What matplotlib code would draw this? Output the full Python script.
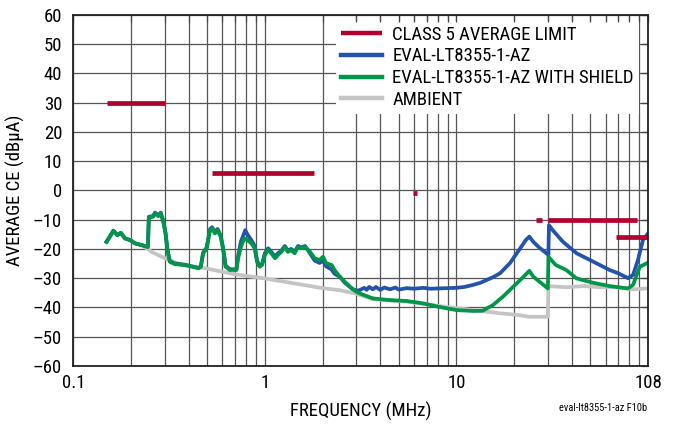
"""Average conducted emissions of EVAL-LT8355-1-AZ vs CISPR 25 class 5 limit."""

import matplotlib
matplotlib.use("Agg")
import matplotlib.pyplot as plt
from matplotlib.ticker import FixedLocator, NullFormatter

plt.rcParams["font.family"] = ["Roboto Condensed", "DejaVu Sans"]

# Class 5 average limit segments: (f_start MHz, f_stop MHz, level dBuA)
LIMIT_SEGMENTS = [
    (0.15, 0.30, 30.0),
    (0.53, 1.80, 6.0),
    (5.90, 6.20, -1.0),
    (26.0, 28.0, -10.0),
    (30.0, 88.0, -10.0),
    (68.0, 108.0, -16.0),
]

FREQ_BLUE = [0.149, 0.162, 0.17, 0.177, 0.186, 0.198, 0.21, 0.228, 0.245, 0.248,
             0.261, 0.267, 0.278, 0.286, 0.295, 0.303, 0.31, 0.319, 0.339, 0.383,
             0.45, 0.463, 0.476, 0.497, 0.517, 0.53, 0.548, 0.566, 0.588, 0.606,
             0.624, 0.656, 0.71, 0.725, 0.75, 0.79, 0.81, 0.85, 0.885, 0.91,
             0.94, 0.967, 1.0, 1.04, 1.08, 1.13, 1.17, 1.22, 1.27, 1.32,
             1.37, 1.43, 1.49, 1.55, 1.62, 1.72, 1.82, 1.93, 2.01, 2.09,
             2.23, 2.31, 2.46, 2.61, 2.84, 3.0, 3.12, 3.3, 3.4, 3.5,
             3.66, 3.8, 4.0, 4.2, 4.5, 4.8, 5.0, 5.5, 6.0, 6.7,
             7.3, 8.1, 9.0, 10.0, 11.0, 12.2, 13.3, 14.4, 15.6, 16.9,
             19.0, 21.2, 23.0, 24.0, 25.2, 27.0, 29.5, 30.2, 30.4, 31.8,
             36.0, 42.4, 51.9, 63.0, 69.8, 78.6, 83.5, 88.6, 94.0, 100.0]
CE_BLUE = [-17.6, -13.8, -15.3, -14.5, -16.4, -17.0, -18.1, -18.7, -19.3, -9.0,
           -8.8, -7.6, -8.5, -7.6, -10.4, -14.5, -20.2, -24.2, -25.0, -25.4,
           -26.5, -26.0, -21.3, -19.5, -13.2, -12.6, -14.3, -13.2, -15.4, -19.8,
           -25.8, -26.9, -27.0, -22.5, -17.5, -13.6, -15.0, -17.0, -19.0, -24.0,
           -25.8, -25.2, -21.5, -19.8, -21.0, -22.6, -21.5, -20.6, -19.0, -20.6,
           -20.0, -21.0, -19.0, -19.5, -19.0, -21.5, -24.0, -24.8, -24.0, -26.0,
           -27.0, -28.5, -29.5, -31.5, -33.5, -34.3, -34.1, -33.3, -34.0, -33.0,
           -33.8, -33.0, -34.0, -33.2, -33.8, -33.2, -33.9, -33.4, -33.6, -33.3,
           -33.6, -33.5, -33.4, -33.3, -33.0, -32.3, -31.6, -30.6, -29.6, -28.3,
           -24.9, -20.4, -17.0, -15.8, -17.6, -19.5, -21.5, -22.1, -11.9, -13.6,
           -17.6, -21.5, -24.4, -27.2, -28.3, -30.0, -28.9, -23.8, -17.0, -14.7]

FREQ_GREEN = [0.149, 0.162, 0.17, 0.177, 0.186, 0.198, 0.21, 0.228, 0.245, 0.248,
              0.261, 0.267, 0.278, 0.286, 0.295, 0.303, 0.31, 0.319, 0.339, 0.383,
              0.45, 0.463, 0.476, 0.497, 0.517, 0.53, 0.548, 0.566, 0.588, 0.606,
              0.624, 0.656, 0.71, 0.725, 0.75, 0.78, 0.81, 0.85, 0.885, 0.91,
              0.94, 0.967, 1.0, 1.04, 1.08, 1.13, 1.17, 1.22, 1.27, 1.32,
              1.37, 1.43, 1.49, 1.55, 1.62, 1.72, 1.82, 1.93, 2.01, 2.09,
              2.23, 2.31, 2.46, 2.61, 2.84, 3.0, 3.12, 3.66, 4.5, 5.5,
              6.7, 8.1, 10.0, 12.2, 13.7, 15.5, 17.5, 19.8, 22.4, 24.0,
              25.2, 30.0, 30.2, 33.0, 37.4, 42.4, 51.9, 63.0, 78.6, 83.5,
              90.6, 100.0]
CE_GREEN = [-17.6, -13.8, -15.3, -14.5, -16.4, -17.0, -18.1, -18.7, -19.3, -9.2,
            -9.0, -7.9, -8.8, -7.9, -10.7, -14.7, -20.4, -24.4, -25.2, -25.5,
            -26.6, -26.1, -21.5, -19.8, -13.6, -13.0, -14.7, -13.6, -15.8, -20.4,
            -26.1, -27.2, -27.2, -23.2, -19.3, -16.4, -17.0, -18.1, -19.8, -24.4,
            -26.1, -25.5, -22.1, -20.4, -21.5, -23.2, -22.1, -21.0, -19.3, -21.0,
            -20.4, -21.5, -19.3, -19.8, -19.3, -21.0, -23.2, -23.8, -22.7, -24.9,
            -25.5, -27.2, -29.5, -31.2, -33.5, -34.6, -35.2, -36.9, -37.5, -37.8,
            -38.6, -39.8, -40.9, -41.2, -41.1, -39.2, -36.3, -32.9, -29.5, -27.5,
            -29.5, -33.5, -22.7, -25.5, -27.2, -30.1, -31.6, -32.7, -33.5, -32.3,
            -26.1, -24.7]

FREQ_GRAY = [0.149, 0.162, 0.17, 0.177, 0.186, 0.198, 0.21, 0.228, 0.245, 0.256,
             0.301, 0.368, 0.486, 0.69, 1.0, 2.0, 2.46, 3.0, 3.66, 5.5,
             8.1, 12.2, 16.9, 21.2, 24.0, 30.0, 30.2, 37.4, 46.0, 56.0,
             68.0, 83.5, 100.0]
CE_GRAY = [-17.6, -13.8, -15.3, -14.5, -16.4, -17.0, -18.1, -18.9, -20.0, -21.0,
           -23.2, -25.5, -26.6, -28.6, -30.1, -33.4, -34.1, -35.3, -37.2, -38.0,
           -39.5, -40.9, -42.0, -42.6, -43.2, -43.2, -32.7, -33.1, -32.7, -33.1,
           -33.1, -33.8, -33.5]

X_TICKS = [0.1, 1, 10, 100]
X_TICK_LABELS = ["0.1", "1", "10", "108"]
Y_TICKS = list(range(-60, 61, 10))

RED = "#B0002E"
BLUE = "#2354A8"
GREEN = "#00964A"
GRAY = "#C4C4C4"


def main() -> None:
    fig = plt.figure(figsize=(6.78, 4.24), dpi=100)
    rect = [0.1081, 0.1368, 0.9558 - 0.1081, 0.9653 - 0.1368]
    ax = fig.add_axes(rect)

    ax.plot(FREQ_GRAY, CE_GRAY, color=GRAY, lw=2.7, label="AMBIENT", zorder=3)
    ax.plot(FREQ_BLUE, CE_BLUE, color=BLUE, lw=2.7, label="EVAL-LT8355-1-AZ", zorder=4)
    ax.plot(FREQ_GREEN, CE_GREEN, color=GREEN, lw=2.7,
            label="EVAL-LT8355-1-AZ WITH SHIELD", zorder=5)
    for idx, (f0, f1, level) in enumerate(LIMIT_SEGMENTS):
        ax.plot([f0, f1], [level, level], color=RED, lw=3.4, solid_capstyle="butt",
                label="CLASS 5 AVERAGE LIMIT" if idx == 0 else None, zorder=6)

    ax.set_xscale("log")
    ax.set_xlim(0.1, 100)
    ax.set_ylim(-60, 60)
    ax.xaxis.set_major_locator(FixedLocator(X_TICKS))
    ax.set_xticklabels(X_TICK_LABELS)
    ax.xaxis.set_minor_locator(FixedLocator(
        [m * d for d in (0.1, 1, 10) for m in range(2, 10)]))
    ax.xaxis.set_minor_formatter(NullFormatter())
    ax.set_yticks(Y_TICKS)
    ax.set_yticklabels([str(v).replace("-", "\u2013") for v in Y_TICKS])
    ax.tick_params(which="both", length=0, labelsize=13.5)
    ax.tick_params(axis="x", pad=6)
    ax.tick_params(axis="y", pad=8)
    ax.grid(True, which="both", color="#555555", lw=0.9)
    for spine in ax.spines.values():
        spine.set_visible(False)

    ax.set_xlabel("FREQUENCY (MHz)", fontsize=13.5, labelpad=7)
    ax.set_ylabel("AVERAGE CE (dB\u00b5A)", fontsize=13.5, labelpad=6)

    handles, labels = ax.get_legend_handles_labels()
    order = [3, 1, 2, 0]
    leg = ax.legend([handles[i] for i in order], [labels[i] for i in order],
                    loc="upper right", bbox_to_anchor=(1.0, 1.009), fontsize=13.5,
                    handlelength=2.2, handletextpad=0.55, labelspacing=0.2,
                    borderpad=0.25, fancybox=False, framealpha=1.0,
                    facecolor="white", edgecolor="none")
    leg.set_zorder(10)
    for line in leg.get_lines():
        line.set_linewidth(3.2)

    # Overlay axes: frame and inward ticks stay visible over the legend box.
    ax_ticks = fig.add_axes(rect, facecolor="none")
    ax_ticks.set_xscale("log")
    ax_ticks.set_xlim(ax.get_xlim())
    ax_ticks.set_ylim(ax.get_ylim())
    ax_ticks.xaxis.set_major_locator(FixedLocator(X_TICKS))
    ax_ticks.xaxis.set_minor_locator(ax.xaxis.get_minor_locator())
    ax_ticks.set_yticks(Y_TICKS)
    ax_ticks.tick_params(which="both", direction="in", top=True, right=True,
                         bottom=False, left=False, labelbottom=False, labelleft=False,
                         length=5, width=0.9, color="#444444")
    for spine in ax_ticks.spines.values():
        spine.set_linewidth(1.3)
        spine.set_color("#222222")

    fig.text(0.955, 0.025, "eval-lt8355-1-az F10b", fontsize=7.5, ha="right", va="bottom")

    fig.savefig("out.png", dpi=100)
    plt.close(fig)


if __name__ == "__main__":
    main()
